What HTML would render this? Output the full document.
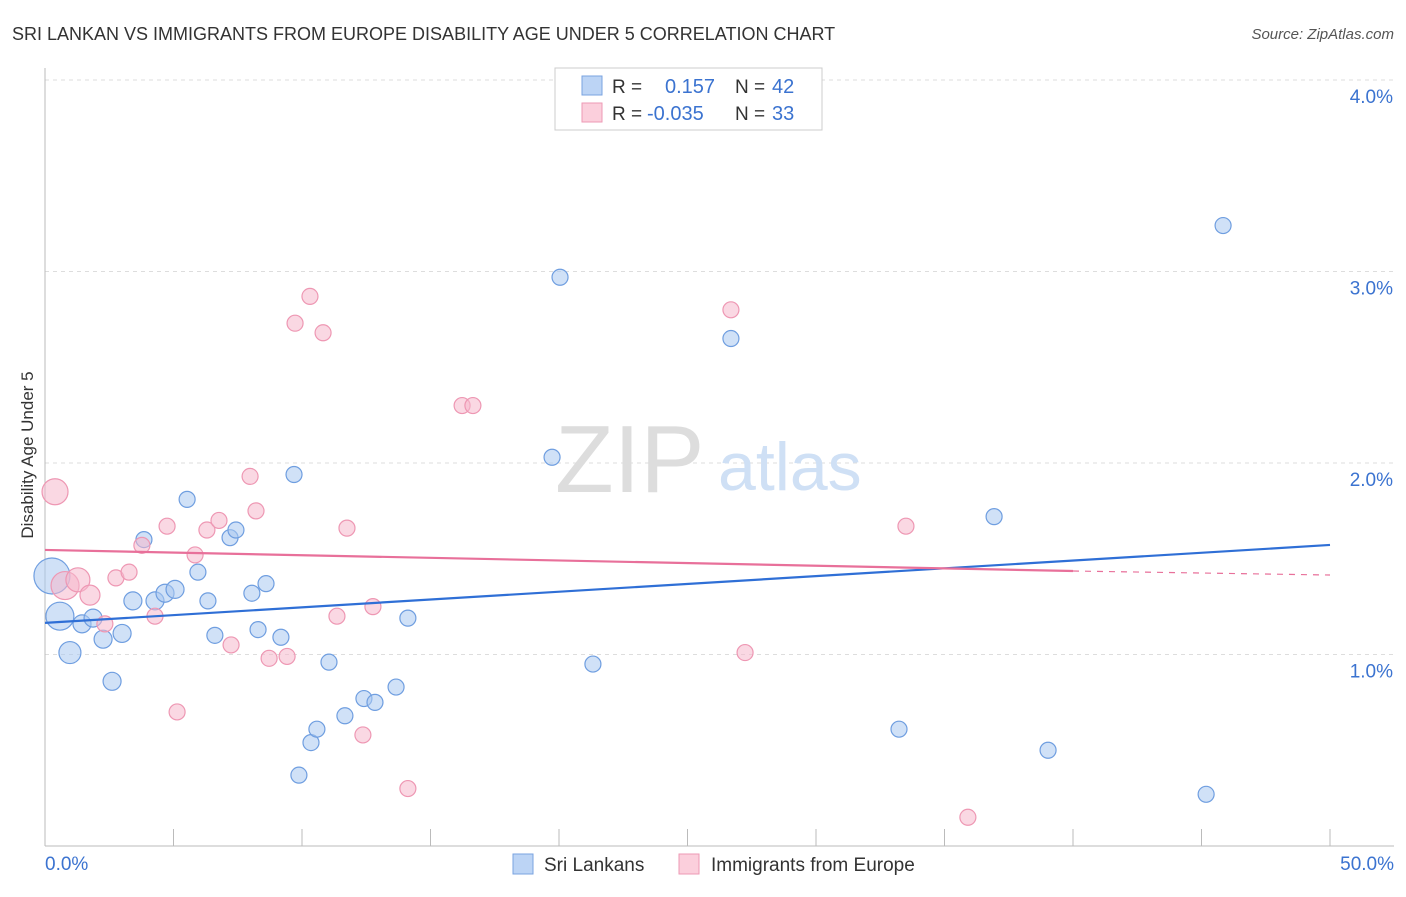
<!DOCTYPE html>
<html><head><meta charset="utf-8"><style>
body{margin:0;background:#fff;font-family:"Liberation Sans",sans-serif}
svg text{font-family:"Liberation Sans",sans-serif}
</style></head><body>
<svg id="chart" width="1406" height="892" xmlns="http://www.w3.org/2000/svg">
<text x="12" y="40" font-size="18" fill="#333">SRI LANKAN VS IMMIGRANTS FROM EUROPE DISABILITY AGE UNDER 5 CORRELATION CHART</text>
<text x="1394" y="39" font-size="15" fill="#555" text-anchor="end" font-style="italic">Source: ZipAtlas.com</text>
<text transform="translate(33,455) rotate(-90)" font-size="17" fill="#333" text-anchor="middle">Disability Age Under 5</text>
<g id="grid"></g>
<g id="axes"></g>
<text x="555" y="492" font-size="96" fill="#ddd" font-family="Liberation Serif">ZIP</text>
<text x="718" y="490" font-size="68" fill="#cfe0f5">atlas</text>
<g id="marks"></g>
<g>
<rect x="555" y="68" width="267" height="62" fill="#fff" stroke="#ccc"/>
<rect x="582" y="76" width="20" height="19" fill="#bcd4f5" stroke="#7aa3e0"/>
<rect x="582" y="103" width="20" height="19" fill="#fbcfdc" stroke="#ee9ab5"/>
<text x="612" y="93" font-size="19" fill="#333">R =</text><text x="665" y="93" font-size="20" fill="#3b73d0">0.157</text>
<text x="735" y="93" font-size="19" fill="#333">N =</text><text x="772" y="93" font-size="20" fill="#3b73d0">42</text>
<text x="612" y="120" font-size="19" fill="#333">R =</text><text x="647" y="120" font-size="20" fill="#3b73d0">-0.035</text>
<text x="735" y="120" font-size="19" fill="#333">N =</text><text x="772" y="120" font-size="20" fill="#3b73d0">33</text>
</g>
<g>
<rect x="513" y="854" width="20" height="20" fill="#bcd4f5" stroke="#7aa3e0"/>
<text x="544" y="871" font-size="19" fill="#333">Sri Lankans</text>
<rect x="679" y="854" width="20" height="20" fill="#fbcfdc" stroke="#ee9ab5"/>
<text x="711" y="871" font-size="19" fill="#333">Immigrants from Europe</text>
</g>
</svg>
<script>
const yTicks=[1,2,3,4];
const yTickLabels=["1.0%","2.0%","3.0%","4.0%"];
const xTicks=[0,5,10,15,20,25,30,35,40,45,50];
const blueX=[0.27,0.58,0.97,1.44,1.87,2.26,2.61,3.00,3.42,3.85,4.28,4.67,5.06,5.53,5.95,6.34,6.61,7.20,7.43,8.05,8.29,8.60,9.18,9.69,9.88,10.35,10.58,11.05,11.67,12.41,12.84,13.66,14.12,19.73,20.04,21.32,26.69,33.23,36.93,39.03,45.18,45.84];
const blueY=[1.41,1.20,1.01,1.16,1.19,1.08,0.86,1.11,1.28,1.60,1.28,1.32,1.34,1.81,1.43,1.28,1.10,1.61,1.65,1.32,1.13,1.37,1.09,1.94,0.37,0.54,0.61,0.96,0.68,0.77,0.75,0.83,1.19,2.03,2.97,0.95,2.65,0.61,1.72,0.50,0.27,3.24];
const blueR=[18,14,11,9,9,9,9,9,9,8,9,9,9,8,8,8,8,8,8,8,8,8,8,8,8,8,8,8,8,8,8,8,8,8,8,8,8,8,8,8,8,8];
const pinkX=[0.39,0.78,1.28,1.75,2.33,2.76,3.27,3.77,4.28,4.75,5.14,5.84,6.30,6.77,7.24,7.98,8.21,8.72,9.42,9.73,10.31,10.82,11.36,11.75,12.37,12.76,14.12,16.23,16.65,26.69,27.24,33.50,35.91];
const pinkY=[1.85,1.36,1.39,1.31,1.16,1.40,1.43,1.57,1.20,1.67,0.70,1.52,1.65,1.70,1.05,1.93,1.75,0.98,0.99,2.73,2.87,2.68,1.20,1.66,0.58,1.25,0.30,2.30,2.30,2.80,1.01,1.67,0.15];
const pinkR=[13,14,12,10,8,8,8,8,8,8,8,8,8,8,8,8,8,8,8,8,8,8,8,8,8,8,8,8,8,8,8,8,8];
const blueTrend=[1.165,1.572];
const pinkTrend=[1.546,1.436,1.415];
const NS="http://www.w3.org/2000/svg";
const sx=v=>45+v/50*1285, sy=v=>846-v*191.5;
function mk(tag,attrs,parent){const e=document.createElementNS(NS,tag);for(const k in attrs)e.setAttribute(k,attrs[k]);parent.appendChild(e);return e;}
const grid=document.getElementById('grid'),axes=document.getElementById('axes'),marks=document.getElementById('marks');
yTicks.forEach((t,i)=>{
 const l=mk('line',{x1:45,x2:1394,y1:sy(t),y2:sy(t),stroke:'#ddd','stroke-dasharray':'4,4'},grid);
 
 
 const tx=mk('text',{x:1393,y:sy(t)+23,'font-size':19,fill:'#3b73d0','text-anchor':'end'},axes);
 tx.textContent=yTickLabels[i];
 
 
});
let a=mk('line',{x1:45,x2:45,y1:68,y2:846,stroke:'#bbb'},axes);


a=mk('line',{x1:45,x2:1394,y1:846,y2:846,stroke:'#bbb'},axes);


xTicks.forEach(t=>{
 const l=mk('line',{x1:sx(t),x2:sx(t),y1:829,y2:846,stroke:'#bbb'},axes);
 
 
});
let t1=mk('text',{x:45,y:870,'font-size':19,fill:'#3b73d0'},axes);t1.textContent='0.0%';


t1=mk('text',{x:1394,y:870,'font-size':19,fill:'#3b73d0','text-anchor':'end'},axes);t1.textContent='50.0%';


blueX.forEach((x,i)=>{
 const c=mk('circle',{cx:sx(x),cy:sy(blueY[i]),r:blueR[i],fill:'rgba(169,200,240,0.55)',stroke:'#6f9ee0','stroke-width':1.2},marks);
 
 
});
pinkX.forEach((x,i)=>{
 const c=mk('circle',{cx:sx(x),cy:sy(pinkY[i]),r:pinkR[i],fill:'rgba(246,184,204,0.55)',stroke:'#ee97b3','stroke-width':1.2},marks);
 
 
});
let ln=mk('line',{x1:sx(0),y1:sy(blueTrend[0]),x2:sx(50),y2:sy(blueTrend[1]),stroke:'#2f6fd6','stroke-width':2.2},marks);


ln=mk('line',{x1:sx(0),y1:sy(pinkTrend[0]),x2:sx(40),y2:sy(pinkTrend[1]),stroke:'#e8709a','stroke-width':2.2},marks);


ln=mk('line',{x1:sx(40),y1:sy(pinkTrend[1]),x2:sx(50),y2:sy(pinkTrend[2]),stroke:'#e8709a','stroke-width':1.2,'stroke-dasharray':'6,6'},marks);


</script>
</body></html>
